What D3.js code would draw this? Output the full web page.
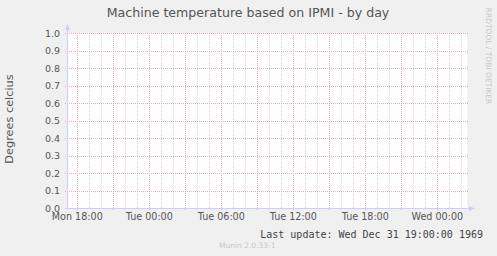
<!DOCTYPE html>
<html>
<head>
<meta charset="utf-8">
<script src="https://cdn.jsdelivr.net/npm/d3@7"></script>
<style>
  body { margin: 0; background: #f0f0f0; }
  svg { display: block; }
</style>
</head>
<body>
<div id="vis"></div>
<script>
// Datos del gráfico (vacío: solo ejes y rejilla)
const title = "Machine temperature based on IPMI - by day";
const yLabel = "Degrees celcius";
const yTicks = [0.0, 0.1, 0.2, 0.3, 0.4, 0.5, 0.6, 0.7, 0.8, 0.9, 1.0];
const xLabels = ["Mon 18:00", "Tue 00:00", "Tue 06:00", "Tue 12:00", "Tue 18:00", "Wed 00:00"];
const lastUpdate = "Last update: Wed Dec 31 19:00:00 1969";
const footer = "Munin 2.0.33-1";
const watermark = "RRDTOOL / TOBI OETIKER";

// Tiempo: lunes 2024-01-01 (UTC). Rango ~33.3 horas
const tStart = new Date(Date.UTC(2024, 0, 1, 17, 8, 30));
const tEnd = new Date(tStart.getTime() + 400 * 300 * 1000);

const WIDTH = 497;
const HEIGHT = 256;
const plot = { left: 67, right: 467, top: 33, bottom: 208 };

const SVG = d3.select("#vis").append("svg")
  .attr("width", WIDTH)
  .attr("height", HEIGHT);

SVG.append("rect").attr("width", WIDTH).attr("height", HEIGHT).attr("fill", "#f0f0f0");

const x = d3.scaleUtc().domain([tStart, tEnd]).range([plot.left, plot.right]);
const y = d3.scaleLinear().domain([0, 1]).range([plot.bottom, plot.top]);

// Fondo del área
SVG.append("rect")
  .attr("x", plot.left).attr("y", plot.top)
  .attr("width", plot.right - plot.left).attr("height", plot.bottom - plot.top)
  .attr("fill", "white");

// Rejilla vertical: menor cada hora, mayor cada 3 horas
const hours = d3.utcHour.range(tStart, tEnd);
SVG.append("g").selectAll("line")
  .data(hours.filter(d => d.getUTCHours() % 3 !== 0))
  .join("line")
  .attr("x1", d => Math.round(x(d)) + 0.5).attr("x2", d => Math.round(x(d)) + 0.5)
  .attr("y1", plot.top).attr("y2", plot.bottom)
  .attr("stroke", "#d4d4d4").attr("stroke-dasharray", "1,1");

const major = hours.filter(d => d.getUTCHours() % 3 === 0);
SVG.append("g").selectAll("line")
  .data(major)
  .join("line")
  .attr("x1", d => Math.round(x(d)) + 0.5).attr("x2", d => Math.round(x(d)) + 0.5)
  .attr("y1", plot.top).attr("y2", plot.bottom + 3)
  .attr("stroke", "#f2a8a8").attr("stroke-dasharray", "1,1");

// Rejilla horizontal
SVG.append("g").selectAll("line")
  .data(yTicks.slice(1))
  .join("line")
  .attr("x1", plot.left - 2).attr("x2", plot.right + 1)
  .attr("y1", d => Math.round(y(d)) + 0.5).attr("y2", d => Math.round(y(d)) + 0.5)
  .attr("stroke", "#f2a8a8").attr("stroke-dasharray", "1,1");

// Ejes
const axisColor = "#ccccff";
SVG.append("line")
  .attr("x1", plot.left + 0.5).attr("x2", plot.left + 0.5)
  .attr("y1", plot.bottom + 1).attr("y2", plot.top - 5)
  .attr("stroke", axisColor);
SVG.append("path")
  .attr("d", `M${plot.left - 2},${plot.top - 3} L${plot.left + 3},${plot.top - 3} L${plot.left + 0.5},${plot.top - 9} Z`)
  .attr("fill", axisColor);
SVG.append("line")
  .attr("x1", plot.left - 2).attr("x2", plot.right + 4)
  .attr("y1", plot.bottom + 0.5).attr("y2", plot.bottom + 0.5)
  .attr("stroke", axisColor);
SVG.append("path")
  .attr("d", `M${plot.right + 2},${plot.bottom - 2} L${plot.right + 2},${plot.bottom + 3} L${plot.right + 8},${plot.bottom + 0.5} Z`)
  .attr("fill", axisColor);

const font = "DejaVu Sans, sans-serif";
const textColor = "#555";

// Etiquetas eje Y
SVG.append("g").selectAll("text")
  .data(yTicks)
  .join("text")
  .attr("x", 60)
  .attr("y", d => y(d) + 3.5)
  .attr("text-anchor", "end")
  .attr("font-family", font).attr("font-size", 9.5)
  .attr("fill", textColor)
  .text(d => d3.format(".1f")(d));

// Etiquetas eje X (cada 6 horas)
const labelTimes = hours.filter(d => d.getUTCHours() % 6 === 0);
SVG.append("g").selectAll("text")
  .data(labelTimes)
  .join("text")
  .attr("x", d => x(d))
  .attr("y", 220)
  .attr("text-anchor", "middle")
  .attr("font-family", font).attr("font-size", 9.6)
  .attr("fill", textColor)
  .text((d, i) => xLabels[i]);

// Título
SVG.append("text")
  .attr("x", 248).attr("y", 17)
  .attr("text-anchor", "middle")
  .attr("font-family", font).attr("font-size", 12.6)
  .attr("fill", textColor)
  .text(title);

// Título eje Y
SVG.append("text")
  .attr("transform", "translate(13,119) rotate(-90)")
  .attr("text-anchor", "middle")
  .attr("font-family", font).attr("font-size", 11.3)
  .attr("fill", textColor)
  .text(yLabel);

// Marca de agua vertical
SVG.append("text")
  .attr("transform", "translate(486,56) rotate(90)")
  .attr("text-anchor", "middle")
  .attr("font-family", font).attr("font-size", 7.5)
  .attr("fill", "#c8c8c8")
  .text(watermark);

// Última actualización
SVG.append("text")
  .attr("x", 483).attr("y", 238)
  .attr("text-anchor", "end")
  .attr("font-family", "DejaVu Sans Mono, monospace").attr("font-size", 10)
  .attr("fill", "#444")
  .text(lastUpdate);

// Pie
SVG.append("text")
  .attr("x", 219).attr("y", 248)
  .attr("font-family", font).attr("font-size", 7.5)
  .attr("fill", "#c8c8c8")
  .text(footer);
</script>
</body>
</html>
